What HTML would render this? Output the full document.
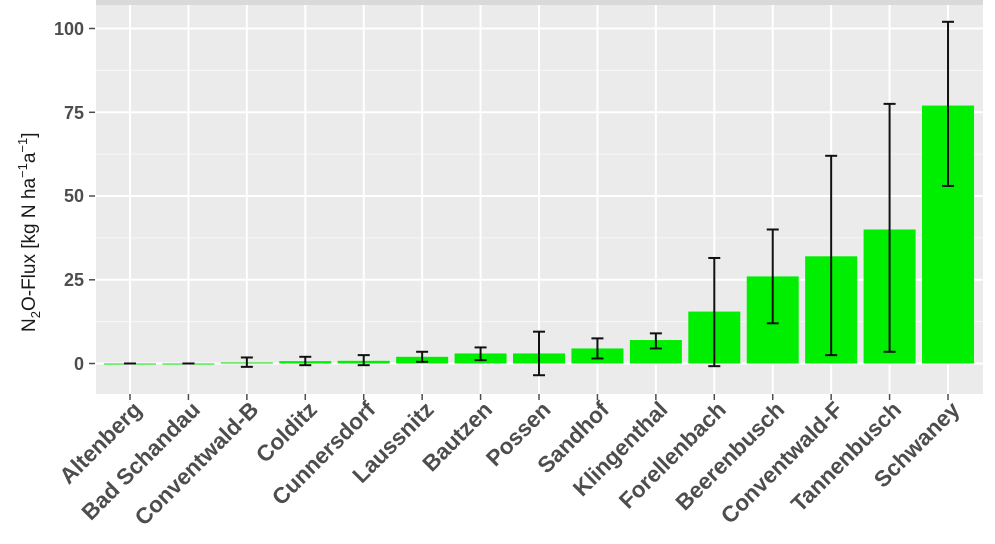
<!DOCTYPE html>
<html><head><meta charset="utf-8"><style>
body{margin:0;background:#fff;}
svg text{font-family:"Liberation Sans",Arial,sans-serif;}
</style></head><body>
<svg width="995" height="539" xmlns="http://www.w3.org/2000/svg">
<rect x="96" y="0" width="887" height="394" fill="#ebebeb"/>
<rect x="96" y="0" width="887" height="5" fill="#d9d9d9"/>
<g stroke="#f7f7f7" stroke-width="1">
<line x1="96" x2="983" y1="321.6" y2="321.6"/><line x1="96" x2="983" y1="237.9" y2="237.9"/>
<line x1="96" x2="983" y1="154.1" y2="154.1"/><line x1="96" x2="983" y1="70.4" y2="70.4"/>
</g>
<g stroke="#fff" stroke-width="2">
<line x1="96" x2="983" y1="363.5" y2="363.5"/><line x1="96" x2="983" y1="279.8" y2="279.8"/>
<line x1="96" x2="983" y1="196" y2="196"/><line x1="96" x2="983" y1="112.3" y2="112.3"/>
<line x1="96" x2="983" y1="28.5" y2="28.5"/>
<g id="vg"></g>
</g>
<g id="bars"></g>
<g fill="#4d4d4d" font-size="18" font-weight="bold" text-anchor="end">
<text x="84" y="370">0</text><text x="84" y="286">25</text><text x="84" y="202">50</text>
<text x="84" y="119">75</text><text x="84" y="35">100</text>
</g>
<g stroke="#4d4d4d" stroke-width="1.5">
<line x1="89" x2="95" y1="363.5" y2="363.5"/><line x1="89" x2="95" y1="279.8" y2="279.8"/>
<line x1="89" x2="95" y1="196" y2="196"/><line x1="89" x2="95" y1="112.3" y2="112.3"/>
<line x1="89" x2="95" y1="28.5" y2="28.5"/>
</g>
<g id="xl"></g>
<text transform="translate(35,332) rotate(-90)" font-size="19" fill="#1a1a1a">N<tspan font-size="13" dy="5">2</tspan><tspan dy="-5">O-Flux [kg N  ha</tspan><tspan font-size="13" dy="-8">−1</tspan><tspan dy="8">a</tspan><tspan font-size="13" dy="-8">−1</tspan><tspan dy="8">]</tspan></text>
</svg>
<script>
var d=[["Altenberg",0,0,0],["Bad Schandau",0,0,0],["Conventwald-B",0.3,-1,1.8],["Colditz",0.7,-0.5,2],["Cunnersdorf",0.8,-0.5,2.5],["Laussnitz",2,0.5,3.5],["Bautzen",3,1,4.8],["Possen",3,-3.5,9.5],["Sandhof",4.5,1.5,7.5],["Klingenthal",7,4.5,9],["Forellenbach",15.5,-0.8,31.5],["Beerenbusch",26,12,40],["Conventwald-F",32,2.5,62],["Tannenbusch",40,3.5,77.5],["Schwaney",77,53,102]];
function y(v){return 363.5-v*3.35;}
var b="",v="",x="";
d.forEach(function(r,i){var cx=130+i*58.43;
v+='<line x1="'+cx+'" x2="'+cx+'" y1="5" y2="394"/>';
var t=y(Math.max(r[1],0)),h=Math.max(y(0)-t,1);
b+='<rect x="'+(cx-26)+'" y="'+t+'" width="52" height="'+h+'" fill="#00ee00"/>';
b+='<g stroke="#111" stroke-width="2"><line x1="'+cx+'" x2="'+cx+'" y1="'+y(r[3])+'" y2="'+y(r[2])+'"/><line x1="'+(cx-6)+'" x2="'+(cx+6)+'" y1="'+y(r[3])+'" y2="'+y(r[3])+'"/><line x1="'+(cx-6)+'" x2="'+(cx+6)+'" y1="'+y(r[2])+'" y2="'+y(r[2])+'"/></g>';
x+='<line x1="'+cx+'" x2="'+cx+'" y1="394" y2="400" stroke="#4d4d4d" stroke-width="1.5"/>';
x+='<text transform="translate('+(cx+13)+',411) rotate(-45)" text-anchor="end" font-size="22.5" font-weight="bold" fill="#4d4d4d">'+r[0]+'</text>';
});
document.getElementById("vg").innerHTML=v;
document.getElementById("bars").innerHTML=b;
document.getElementById("xl").innerHTML=x;
</script>
</body></html>
